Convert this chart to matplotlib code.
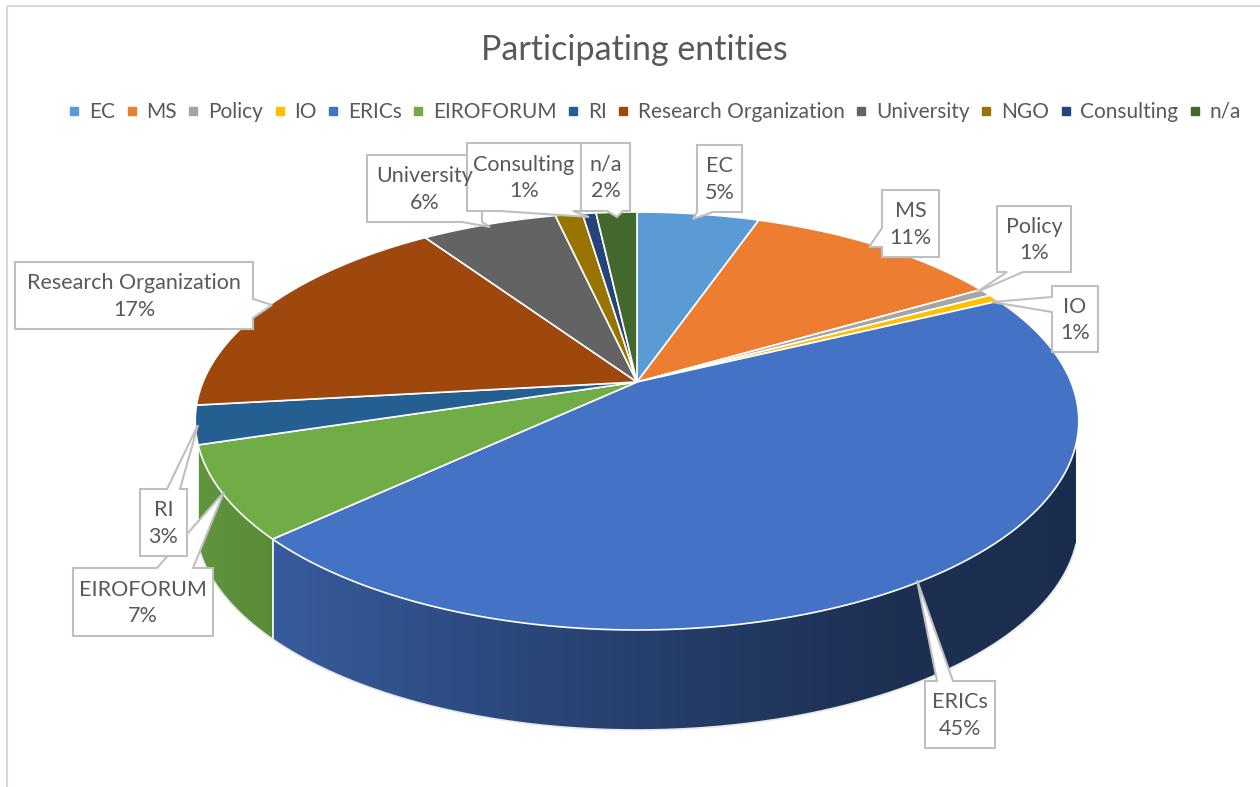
import numpy as np
import matplotlib
matplotlib.use("Agg")
import matplotlib.pyplot as plt
from matplotlib.lines import Line2D
from matplotlib.patches import Polygon, Rectangle

# Data (counts of participating entities)
categories = ["EC", "MS", "Policy", "IO", "ERICs", "EIROFORUM", "RI",
              "Research Organization", "University", "NGO", "Consulting", "n/a"]
counts = [9, 19, 1, 1, 76, 12, 5, 29, 10, 2, 1, 3]
colors = ["#5B9BD5", "#ED7D31", "#A5A5A5", "#FFC000", "#4472C4", "#70AD47",
          "#255E91", "#9E480E", "#636363", "#997300", "#264478", "#43682B"]

# Pie geometry in pixel space (perspective squashed disc)
CX, CY = 637, 382
RX, RY = 434, 201.7
K = 0.1866
DEPTH = 100
SIDE_EDGE = 17  # degrees below the horizontal where the side wall starts showing

TEXT_COLOR = "#595959"
FONT = "Lato"

# Callout boxes: (x0, y0, x1, y1), pointer side, pointer base, pointer tip
callouts = {
    "EC": ((697, 145, 742, 212), "bottom", (697, 713), (693, 219)),
    "MS": ((882, 190, 939, 257), "left", (228, 247), (869, 247)),
    "Policy": ((997, 206, 1071, 272), "bottom", (1007, 1023), (977, 292)),
    "IO": ((1052, 286, 1098, 352), "left", (297, 312), (992, 302)),
    "ERICs": ((925, 681, 995, 748), "top", (937, 953), (917, 580)),
    "EIROFORUM": ((73, 568, 213, 636), "top", (157, 193), (224, 492)),
    "RI": ((140, 489, 187, 556), "top", (167, 180), (198, 425)),
    "Research Organization": ((15, 262, 253, 329), "right", (299, 318), (272, 305)),
    "University": ((367, 155, 482, 222), "bottom", (462, 482), (490, 227)),
    "Consulting": ((467, 143, 581, 211), "bottom", (500, 573), (589, 217)),
    "n/a": ((581, 143, 630, 211), "bottom", (607, 623), (617, 217)),
}


def project(theta_deg, r=1.0):
    t = np.radians(theta_deg)
    u, v = r * np.cos(t), r * np.sin(t)
    w = 1 + K * v
    return CX + RX * u / w, CY - RY * v / w


def side_shade(x):
    # lighter on the left, darker on the right
    return np.interp(x, [195, 280, 500, 700, 900, 1080],
                     [0.86, 0.80, 0.64, 0.52, 0.42, 0.40])


def callout_polygon(box, side, base, tip):
    x0, y0, x1, y1 = box
    b0, b1 = base
    if side == "bottom":
        pts = [(x0, y0), (x1, y0), (x1, y1), (b1, y1), tip, (b0, y1), (x0, y1)]
    elif side == "top":
        pts = [(x0, y0), (b0, y0), tip, (b1, y0), (x1, y0), (x1, y1), (x0, y1)]
    elif side == "left":
        pts = [(x0, y0), (x1, y0), (x1, y1), (x0, y1), (x0, b1), tip, (x0, b0)]
    else:
        pts = [(x0, y0), (x1, y0), (x1, b0), tip, (x1, b1), (x1, y1), (x0, y1)]
    return pts


def main() -> None:
    fig = plt.figure(figsize=(12.6, 7.87), dpi=100)
    ax = fig.add_axes([0, 0, 1, 1])
    ax.set_xlim(0, 1260)
    ax.set_ylim(787, 0)
    ax.axis("off")

    # chart frame
    ax.add_patch(Rectangle((7, 6), 1300, 900, fill=False, edgecolor="#D9D9D9", lw=1.5))

    total = sum(counts)
    starts, ends = [], []
    acc = 0
    for c in counts:
        starts.append(90 - 360 * acc / total)
        acc += c
        ends.append(90 - 360 * acc / total)

    # side wall, only the part facing the viewer, with a left-to-right gradient
    win_lo, win_hi = -180 + SIDE_EDGE, -SIDE_EDGE
    for a0, a1, col in zip(starts, ends, colors):
        lo, hi = max(a1, win_lo), min(a0, win_hi)
        if lo >= hi:
            continue
        tt = np.linspace(lo, hi, 200)
        px, py = project(tt)
        pts = list(zip(px, py)) + list(zip(px[::-1], py[::-1] + DEPTH))
        poly = Polygon(pts, closed=True, facecolor="none", edgecolor="none")
        ax.add_patch(poly)
        x0, x1 = px.min() - 2, px.max() + 2
        y0, y1 = py.min() - 2, py.max() + DEPTH + 2
        xs = np.linspace(x0, x1, 400)
        base = np.array(matplotlib.colors.to_rgb(col))
        row = np.clip(base[None, :] * side_shade(xs)[:, None], 0, 1)
        img = np.repeat(row[None, :, :], 2, axis=0)
        im = ax.imshow(img, extent=(x0, x1, y1, y0), aspect="auto",
                       interpolation="bilinear", zorder=1)
        im.set_clip_path(poly)
    # white seams on the side where slices meet
    for a in ends:
        if win_lo < a < win_hi:
            x, y = project(a)
            ax.plot([x, x], [y, y + DEPTH], color="white", lw=1.2, zorder=2)
    tt = np.linspace(win_lo, win_hi, 300)
    bx, by = project(tt)
    ax.plot(bx, by + DEPTH, color="#E6E6E6", lw=1.2, zorder=2)

    # top face
    for a0, a1, col in zip(starts, ends, colors):
        tt = np.linspace(a0, a1, max(3, int(abs(a0 - a1) * 2)))
        px, py = project(tt)
        pts = [(CX, CY)] + list(zip(px, py))
        ax.add_patch(Polygon(pts, closed=True, facecolor=col, edgecolor="white",
                             lw=1.2, zorder=3))

    # data label callouts
    for name, count in zip(categories, counts):
        if name not in callouts:
            continue
        box, side, base, tip = callouts[name]
        ax.add_patch(Polygon(callout_polygon(box, side, base, tip), closed=True,
                             facecolor="white", edgecolor="#BFBFBF", lw=1.5, zorder=5))
        pct = round(100 * count / total)
        ax.text((box[0] + box[2]) / 2, (box[1] + box[3]) / 2 + 1, f"{name}\n{pct}%",
                ha="center", va="center", fontsize=15.5, color=TEXT_COLOR,
                family=FONT, linespacing=1.4, zorder=6)

    ax.text(634, 50, "Participating entities", ha="center", va="center",
            fontsize=24.5, color=TEXT_COLOR, family=FONT)

    handles = [Line2D([], [], marker="s", linestyle="", markersize=6,
                      markerfacecolor=c, markeredgecolor=c) for c in colors]
    fig.legend(handles, categories, loc="center", bbox_to_anchor=(655 / 1260, 1 - 112 / 787),
               ncol=len(categories), frameon=False, handlelength=0.5, handletextpad=0.45,
               columnspacing=0.55, prop={"family": FONT, "size": 15}, labelcolor=TEXT_COLOR)

    fig.savefig("out.png", dpi=100)


if __name__ == "__main__":
    main()
